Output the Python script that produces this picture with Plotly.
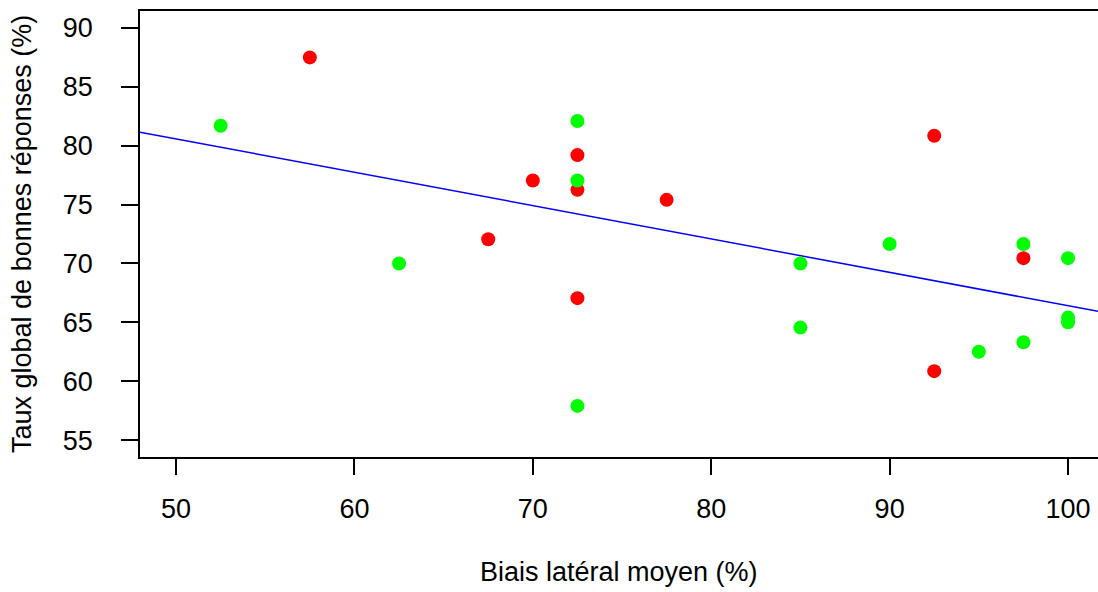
import numpy as np
import plotly.graph_objects as go

# Biais latéral moyen (%) / taux global de bonnes réponses (%)
red_x = [57.5, 67.5, 70.0, 72.5, 72.5, 72.5, 77.5, 92.5, 92.5, 97.5]
red_y = [87.5, 72.05, 77.05, 79.2, 76.25, 67.05, 75.4, 80.85, 60.85, 70.45]

green_x = [52.5, 62.5, 72.5, 72.5, 72.5, 85.0, 85.0, 90.0, 95.0, 97.5, 97.5, 100.0, 100.0, 100.0]
green_y = [81.7, 70.0, 82.1, 77.05, 57.9, 70.0, 64.55, 71.65, 62.5, 71.65, 63.3, 70.45, 65.4, 65.0]

x_ticks = [50, 60, 70, 80, 90, 100]
y_ticks = [55, 60, 65, 70, 75, 80, 85, 90]

X_RANGE = [47.98, 101.68]
Y_RANGE = [53.56, 91.44]

FONT = "Liberation Sans, Arial, sans-serif"
FONT_SIZE = 27

all_x = np.array(red_x + green_x)
all_y = np.array(red_y + green_y)
slope, intercept = np.polyfit(all_x, all_y, 1)
line_x = np.array(X_RANGE)
line_y = intercept + slope * line_x

fig = go.Figure()
fig.add_trace(
    go.Scatter(
        x=line_x, y=line_y, mode="lines",
        line=dict(color="#0000ff", width=1.5),
        hoverinfo="skip",
    )
)
fig.add_trace(
    go.Scatter(
        x=red_x, y=red_y, mode="markers",
        marker=dict(color="#ff0000", size=14, line=dict(width=0)),
    )
)
fig.add_trace(
    go.Scatter(
        x=green_x, y=green_y, mode="markers",
        marker=dict(color="#00ff00", size=14, line=dict(width=0)),
    )
)

fig.update_layout(
    width=1098,
    height=592,
    showlegend=False,
    plot_bgcolor="white",
    paper_bgcolor="white",
    font=dict(family=FONT, size=FONT_SIZE, color="black"),
    margin=dict(l=140, r=0, t=11, b=135),
    annotations=[
        dict(
            text="Taux global de bonnes réponses (%)",
            xref="paper", yref="paper", x=0, y=0.5,
            xanchor="center", yanchor="middle",
            xshift=-118, textangle=-90, showarrow=False,
            font=dict(family=FONT, size=FONT_SIZE, color="black"),
        ),
        dict(
            text="Biais latéral moyen (%)",
            xref="paper", yref="paper", x=0.5, y=0,
            xanchor="center", yanchor="middle",
            yshift=-115, showarrow=False,
            font=dict(family=FONT, size=FONT_SIZE, color="black"),
        ),
    ],
)
fig.update_xaxes(
    range=X_RANGE, tickvals=x_ticks, ticktext=[str(v) for v in x_ticks],
    showgrid=False, zeroline=False,
    showline=True, linecolor="black", linewidth=1.5, mirror=True,
    ticks="outside", ticklen=16, tickwidth=1.5, tickcolor="black",
    ticklabelstandoff=11,
)
fig.update_yaxes(
    range=Y_RANGE, tickvals=y_ticks, ticktext=[str(v) for v in y_ticks],
    showgrid=False, zeroline=False,
    showline=True, linecolor="black", linewidth=1.5, mirror=False,
    ticks="outside", ticklen=17, tickwidth=1.5, tickcolor="black",
    ticklabelstandoff=23,
)

# drop the default page margin so the figure sits at the window origin
fig.write_html(
    "out.html",
    config={"displayModeBar": False},
    post_script="document.body.style.margin = '0px';",
)
